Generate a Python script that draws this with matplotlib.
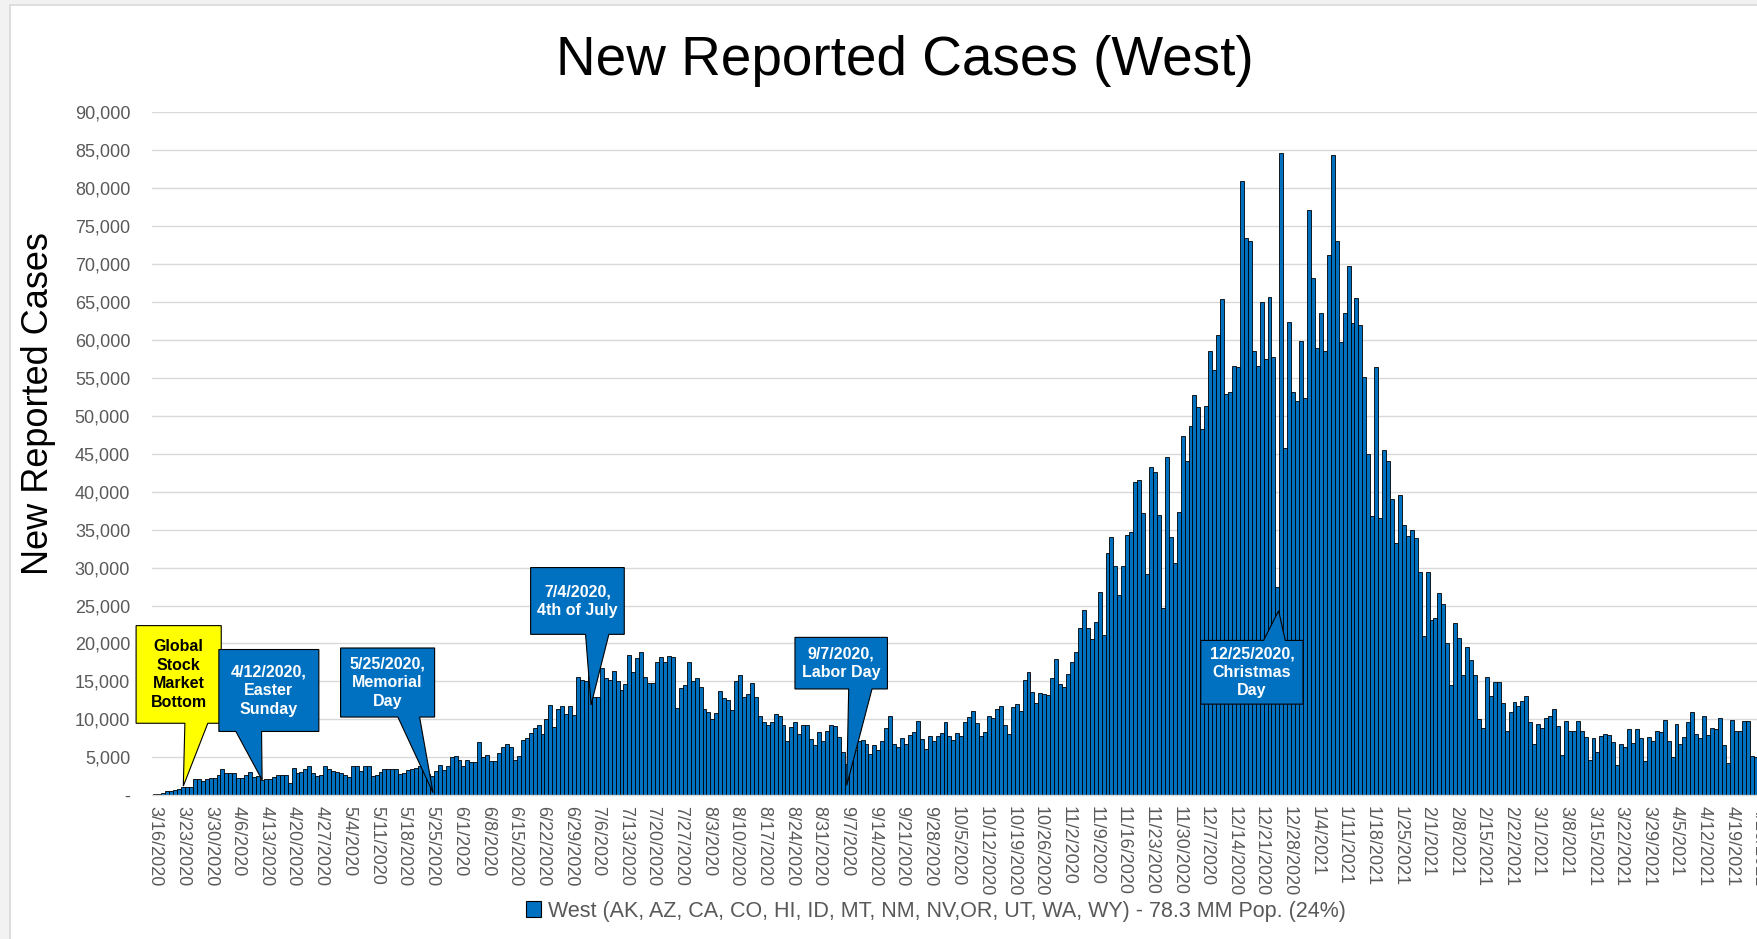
import numpy as np
import pandas as pd
import matplotlib
matplotlib.use("Agg")
import matplotlib.pyplot as plt
from matplotlib.patches import Polygon, Patch, Rectangle
from matplotlib.ticker import FuncFormatter

plt.rcParams['font.family'] = ['Liberation Sans', 'DejaVu Sans']

# ---------------- data (daily new reported cases, thousands) ----------------
start_date = "2020-03-16"

cases_spring_k = [0.18, 0.22, 0.35, 0.5, 0.6, 0.7, 0.8, 1.06, 1.06, 1.06,
                  2.2, 2.2, 1.9, 2.15, 2.25, 2.3, 2.6, 3.5, 2.9, 2.9,
                  2.9, 2.25, 2.25, 2.7, 3.0, 2.4, 2.5, 2.0, 2.1, 2.2,
                  2.4, 2.6, 2.7, 2.7, 1.6, 3.6, 2.9, 3.0, 3.5, 3.8,
                  2.9, 2.5, 2.6, 3.9, 3.4, 3.2, 3.0, 2.9, 2.7, 2.4,
                  3.8, 3.8, 3.2, 3.9, 3.8, 2.5, 2.7, 3.0, 3.4, 3.4,
                  3.5, 3.4, 2.8, 2.9, 3.3, 3.4, 3.6, 3.8, 3.5, 2.8,
                  2.5, 3.2, 4.0, 3.3, 3.8]

cases_summer_k = [5.1, 5.2, 4.7, 3.8, 4.7, 4.4, 4.4, 7.0, 5.1, 5.3,
                  4.5, 4.5, 5.5, 6.4, 6.7, 6.3, 4.7, 5.2, 7.3, 7.6,
                  8.2, 8.9, 9.3, 8.0, 10.1, 11.9, 9.0, 11.3, 11.8, 10.7,
                  11.8, 10.6, 15.6, 15.2, 15.1, 15.9, 12.9, 12.9, 16.8, 15.4,
                  15.2, 16.4, 15.1, 13.8, 14.6, 18.5, 16.3, 18.1, 18.9, 15.6,
                  14.8, 14.8, 17.6, 18.2, 17.6, 18.4, 18.2, 11.5, 14.1, 14.5,
                  17.6, 15.1, 15.5, 14.2, 11.4, 11.0, 10.0, 10.8, 13.7, 12.8,
                  12.5, 11.2, 15.0]

cases_fall_k = [15.9, 12.9, 13.4, 14.8, 13.0, 10.4, 9.6, 9.2, 9.6, 10.7,
                10.5, 9.3, 7.2, 9.0, 9.6, 8.0, 9.2, 9.3, 7.4, 6.6,
                8.3, 7.1, 8.5, 9.3, 9.1, 7.7, 5.7, 4.1, 6.5, 6.0,
                7.2, 7.3, 6.7, 5.4, 6.6, 5.9, 7.1, 8.9, 10.4, 6.8,
                6.3, 7.6, 6.7, 7.9, 8.3, 9.8, 7.4, 6.1, 7.8, 7.2,
                7.8, 8.2, 9.6, 7.8, 7.3, 8.2, 7.8, 9.6, 10.3, 11.1,
                9.5, 7.8, 8.3, 10.5, 10.2, 11.4, 11.8, 9.3, 8.0, 11.6,
                12.0, 11.1, 15.2, 16.3, 13.6, 12.1, 13.5, 13.3, 13.2, 15.4,
                18.0, 14.7]

cases_surge_k = [14.3, 16.0, 17.6, 18.9, 22.1, 24.4, 22.1, 20.6, 22.8, 26.8,
                 21.1, 31.9, 34.0, 30.2, 26.4, 30.2, 34.3, 34.7, 41.3, 41.5,
                 37.2, 29.1, 43.2, 42.6, 36.9, 24.7, 44.6, 34.0, 30.6, 37.3,
                 47.4, 44.0, 48.7, 52.8, 51.1, 48.3, 51.3, 58.5, 56.1, 60.6,
                 65.4, 52.9, 53.1, 56.6, 56.4, 81.0, 73.4, 73.0, 58.6, 56.5,
                 65.0, 57.5, 65.6, 57.8, 27.4]

cases_winter_k = [84.7, 45.7, 62.4, 53.1, 51.9, 59.8, 52.4, 77.1, 68.2, 58.9,
                  63.6, 58.6, 71.2, 84.4, 73.1, 59.7, 63.5, 69.7, 62.2, 65.5,
                  62.0, 55.1, 45.0, 36.8, 56.4, 36.5, 45.5, 44.1, 39.1, 33.3,
                  39.6, 35.6, 34.1, 35.0, 33.9, 29.4, 21.0, 29.4, 23.1, 23.3,
                  26.7, 25.2, 20.0, 14.5, 22.7]

cases_spring21_k = [20.7, 15.9, 19.5, 17.8, 15.9, 10.1, 8.8, 15.6, 13.1, 14.9,
                    14.9, 12.2, 8.5, 11.0, 12.3, 11.8, 12.4, 13.1, 9.7, 6.7,
                    9.4, 8.8, 10.2, 10.5, 11.3, 9.1, 5.3, 9.8, 8.5, 8.4,
                    9.8, 8.5, 7.7, 4.7, 7.6, 5.7, 7.8, 8.0, 7.9, 7.0,
                    4.0, 6.8, 6.4, 8.7, 6.9, 8.7, 7.6, 4.5, 7.7, 7.1,
                    8.5, 8.3, 9.9, 7.2, 5.0, 9.4, 6.7, 7.7, 9.6, 10.9,
                    8.0, 7.6, 10.5, 7.9, 8.9, 8.7, 10.2, 6.6, 4.2, 9.9,
                    8.5, 8.5, 9.8, 9.8, 5.2, 5.1]

cases = np.array(cases_spring_k + cases_summer_k + cases_fall_k + cases_surge_k
                 + cases_winter_k + cases_spring21_k) * 1000

legend_label = ("West (AK, AZ, CA, CO, HI, ID, MT, NM, NV,OR, UT, WA, WY) "
                "- 78.3 MM Pop. (24%)")

# callouts: text, box (x0, x1, y0, y1), wedge base (xa, xb), tip (x, y), face, text colour, wedge side
callouts = [
    ("Global\nStock\nMarket\nBottom", (-4.85, 16.7, 9480, 22350), (7.5, 13.3), (7.1, 1200), "#FFFF00", "black", "bottom"),
    ("4/12/2020,\nEaster\nSunday", (16.1, 41.4, 8400, 19200), (20.4, 26.9), (27.05, 2000), "#0070C0", "white", "bottom"),
    ("5/25/2020,\nMemorial\nDay", (46.9, 70.7, 10300, 19400), (61.4, 66.9), (70.3, 330), "#0070C0", "white", "bottom"),
    ("7/4/2020,\n4th of July", (95.0, 118.7, 21200, 30000), (108.9, 114.8), (110.3, 11900), "#0070C0", "white", "bottom"),
    ("9/7/2020,\nLabor Day", (161.9, 185.3, 14000, 20800), (175.5, 181.4), (175.0, 1300), "#0070C0", "white", "bottom"),
    ("12/25/2020,\nChristmas\nDay", (264.6, 290.5, 12000, 20400), (280.5, 286.0), (284.3, 24300), "#0070C0", "white", "top"),
]

# ---------------- figure ----------------
W, H = 1758, 939
fig = plt.figure(figsize=(W / 100, H / 100), dpi=100)
fig.patch.set_facecolor("#F2F2F2")
fig.patches.append(Rectangle((10 / W, -0.1), 1.2, 1 - 5 / H + 0.1, transform=fig.transFigure,
                             facecolor="white", edgecolor="#D9D9D9", linewidth=1.2, zorder=-10))

px_per_day = 3.955
x_right = 420
ax_left, ax_bottom, ax_top = 151.7, 795.2, 112.3
ax = fig.add_axes([ax_left / W, 1 - ax_bottom / H,
                   (x_right + 0.5) * px_per_day / W, (ax_bottom - ax_top) / H])
ax.set_facecolor("none")
ax.set_zorder(1)

x = np.arange(len(cases))
ax.bar(x, cases, width=1.0, color="#0070C0", edgecolor="black", linewidth=0.6, zorder=2)

ax.set_xlim(-0.9, x_right)
ax.set_ylim(0, 90000)
ax.set_yticks(np.arange(0, 90001, 5000))
ax.yaxis.set_major_formatter(FuncFormatter(lambda v, p: "-" if v == 0 else f"{int(v):,}"))
ax.yaxis.grid(True, color="#D9D9D9", linewidth=1.0, zorder=0)
ax.set_axisbelow(True)

d0 = pd.Timestamp(start_date)
tick_pos = np.arange(0, x_right, 7)
tick_dates = [d0 + pd.Timedelta(days=int(t)) for t in tick_pos]
tick_lab = [f"{d.month}/{d.day}/{d.year}" for d in tick_dates]
ax.set_xticks(tick_pos)
ax.set_xticklabels(tick_lab, rotation=-90, ha="center", va="top")

ax.tick_params(axis="y", length=0, pad=15.5, labelsize=13, labelcolor="#595959")
ax.tick_params(axis="x", length=0, pad=7.5, labelsize=13, labelcolor="#595959")
for s in ("left", "right", "top"):
    ax.spines[s].set_visible(False)
ax.spines["bottom"].set_color("#D9D9D9")
ax.spines["bottom"].set_linewidth(1.0)

# callouts
for text, (bx0, bx1, by0, by1), (wa, wb), (tx, ty), face, tcol, side in callouts:
    if side == "bottom":
        verts = [(bx0, by1), (bx1, by1), (bx1, by0), (wb, by0), (tx, ty), (wa, by0), (bx0, by0)]
    else:
        verts = [(bx0, by0), (bx1, by0), (bx1, by1), (wb, by1), (tx, ty), (wa, by1), (bx0, by1)]
    poly = Polygon(verts, closed=True, facecolor=face, edgecolor="black", linewidth=0.8,
                   clip_on=False, zorder=5)
    ax.add_patch(poly)
    ax.text((bx0 + bx1) / 2, (by0 + by1) / 2, text, ha="center", va="center",
            color=tcol, fontsize=11.5, fontweight="bold", zorder=6, clip_on=False,
            linespacing=1.3)

# titles
fig.text(905 / W, 1 - 61 / H, "New Reported Cases (West)", ha="center", va="center",
         fontsize=39.5, color="black")
fig.text(39 / W, 1 - 404 / H, "New Reported Cases", rotation=90, ha="center", va="center",
         fontsize=26, color="black")

# legend
leg = fig.legend(handles=[Patch(facecolor="#0070C0", edgecolor="black", linewidth=0.8)],
                 labels=[legend_label], loc="center", bbox_to_anchor=(936 / W, 1 - 911 / H),
                 frameon=False, fontsize=15.5, handlelength=0.7, handleheight=0.7,
                 handletextpad=0.3, borderpad=0)
for t in leg.get_texts():
    t.set_color("#595959")

fig.savefig("out.png", dpi=100, facecolor=fig.get_facecolor())
